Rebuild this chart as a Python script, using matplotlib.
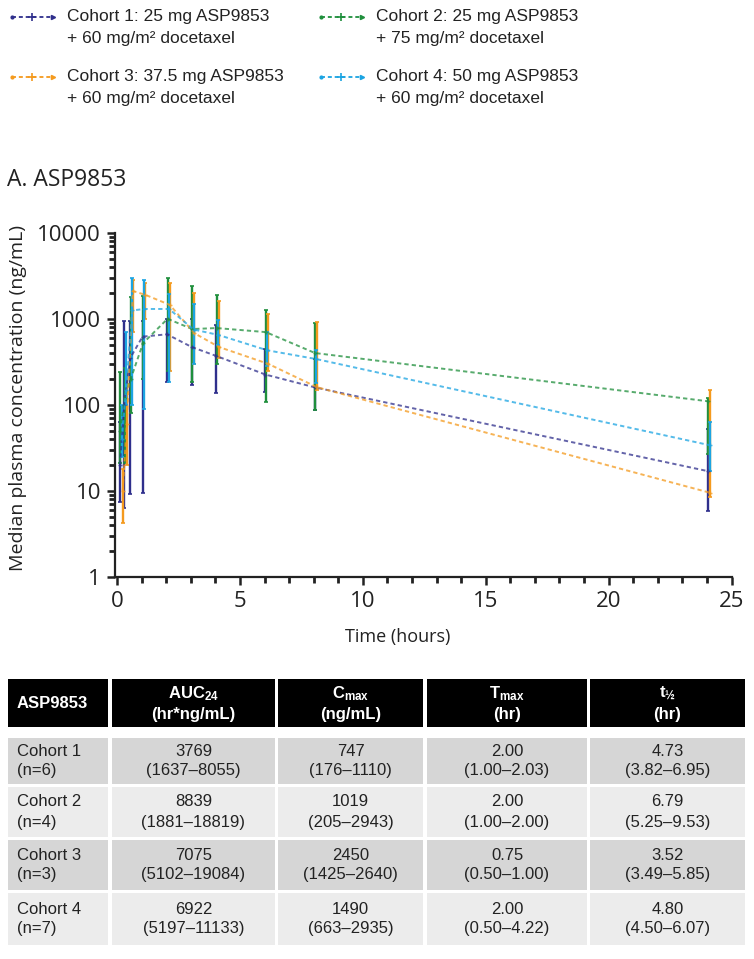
import matplotlib
matplotlib.use("Agg")
import matplotlib.pyplot as plt
from matplotlib.patches import Rectangle
from matplotlib.ticker import FixedLocator, NullFormatter, LogLocator

# ---- data ----
times = [0.083, 0.25, 0.5, 1, 2, 3, 4, 6, 8, 24]

c1_med = [20, 100, 350, 620, 660, 470, 370, 225, 160, 17]
c1_lo = [7.5, 6.3, 9.2, 9.5, 185, 170, 138, 140, 87, 5.8]
c1_hi = [63, 950, 950, 950, 1000, 1000, 850, 450, 345, 53]

c2_med = [50, 120, 200, 520, 1000, 760, 780, 700, 400, 110]
c2_lo = [21, 21, 80, 200, 250, 185, 300, 108, 87, 27]
c2_hi = [240, 270, 1800, 1850, 3000, 2400, 1900, 1250, 900, 120]

c3_med = [10, 60, 2100, 1900, 1450, 680, 470, 300, 160, 9.5]
c3_lo = [4.2, 20, 700, 1000, 250, 300, 350, 245, 150, 8.5]
c3_hi = [18, 250, 2800, 2600, 2600, 2000, 1600, 1150, 920, 148]

c4_med = [40, 150, 1250, 1300, 1300, 750, 650, 430, 340, 34]
c4_lo = [25, 100, 100, 90, 185, 300, 495, 280, 180, 17]
c4_hi = [100, 700, 3000, 2800, 1950, 1500, 960, 700, 430, 63]

cohort_names = ["Cohort 1: 25 mg ASP9853", "Cohort 2: 25 mg ASP9853",
                "Cohort 3: 37.5 mg ASP9853", "Cohort 4: 50 mg ASP9853"]
cohort_doc = ["+ 60 mg/m² docetaxel", "+ 75 mg/m² docetaxel",
              "+ 60 mg/m² docetaxel", "+ 60 mg/m² docetaxel"]

tab_header = ["ASP9853", r"$\mathregular{AUC_{24}}$", r"$\mathregular{C_{max}}$",
              r"$\mathregular{T_{max}}$", r"$\mathregular{t_{½}}$"]
tab_units = ["", "(hr*ng/mL)", "(ng/mL)", "(hr)", "(hr)"]
tab_rows = ["Cohort 1", "Cohort 2", "Cohort 3", "Cohort 4"]
tab_n = ["(n=6)", "(n=4)", "(n=3)", "(n=7)"]
auc_med = ["3769", "8839", "7075", "6922"]
auc_rng = ["(1637–8055)", "(1881–18819)", "(5102–19084)", "(5197–11133)"]
cmax_med = ["747", "1019", "2450", "1490"]
cmax_rng = ["(176–1110)", "(205–2943)", "(1425–2640)", "(663–2935)"]
tmax_med = ["2.00", "2.00", "0.75", "2.00"]
tmax_rng = ["(1.00–2.03)", "(1.00–2.00)", "(0.50–1.00)", "(0.50–4.22)"]
thalf_med = ["4.73", "6.79", "3.52", "4.80"]
thalf_rng = ["(3.82–6.95)", "(5.25–9.53)", "(3.49–5.85)", "(4.50–6.07)"]

# ---- style ----
colors = ["#2f2f8c", "#1f8f3c", "#f49a1e", "#1ba4e2"]
dodge = [0.03, 0.05, 0.14, 0.11]
narrow = ["Liberation Sans Narrow", "Liberation Sans", "DejaVu Sans"]
sans = ["Liberation Sans", "DejaVu Sans"]
myriad = ["Open Sans", "DejaVu Sans"]

W, H = 754, 959
fig = plt.figure(figsize=(W / 100, H / 100), dpi=100)

# overlay in pixel coords for legend + table
ov = fig.add_axes([0, 0, 1, 1])
ov.set_xlim(0, W)
ov.set_ylim(H, 0)
ov.axis("off")

# legend
leg_pos = [(12, 17), (321, 17), (12, 77), (321, 77)]
for i, (lx, ly) in enumerate(leg_pos):
    c = colors[i]
    ov.plot([lx, lx + 41], [ly, ly], color=c, ls=(0, (2.2, 1.6)), lw=1.3)
    ov.plot([lx], [ly], marker="o", ms=2, color=c)
    ov.plot([lx + 20], [ly], marker="+", ms=6, mew=1.2, color=c)
    ov.plot([lx + 41], [ly], marker=">", ms=3, color=c)
    ov.text(lx + 55, ly, cohort_names[i], fontsize=12.5, family=sans,
            va="center", ha="left", color="#222222")
    ov.text(lx + 55, ly + 22, cohort_doc[i], fontsize=12.5, family=sans,
            va="center", ha="left", color="#222222")

ov.text(7, 180, "A. ASP9853", fontsize=16.5, family=myriad, va="center",
        ha="left", color="#222222")

# table
col_x = [(8, 108), (112, 275), (278, 423), (427, 587), (590, 745)]
hdr_y = (679, 727)
row_y = [(738, 784), (787, 837), (840, 890), (893, 945)]
row_fc = ["#d6d6d6", "#ececec", "#d6d6d6", "#ececec"]

for j, (x0, x1) in enumerate(col_x):
    ov.add_patch(Rectangle((x0, hdr_y[0]), x1 - x0, hdr_y[1] - hdr_y[0],
                           facecolor="black", edgecolor="none"))
    yc = (hdr_y[0] + hdr_y[1]) / 2
    if j == 0:
        ov.text(x0 + 9, yc, tab_header[j], color="white", fontsize=12,
                weight="bold", family=narrow, va="center", ha="left")
    else:
        xc = (x0 + x1) / 2
        ov.text(xc, yc - 9, tab_header[j], color="white", fontsize=12,
                weight="bold", family=narrow, va="center", ha="center")
        ov.text(xc, yc + 11, tab_units[j], color="white", fontsize=12,
                weight="bold", family=narrow, va="center", ha="center")

cols = [(tab_rows, tab_n), (auc_med, auc_rng), (cmax_med, cmax_rng),
        (tmax_med, tmax_rng), (thalf_med, thalf_rng)]
for i, (y0, y1) in enumerate(row_y):
    yc = (y0 + y1) / 2
    for j, (x0, x1) in enumerate(col_x):
        ov.add_patch(Rectangle((x0, y0), x1 - x0, y1 - y0,
                               facecolor=row_fc[i], edgecolor="none"))
        top, bot = cols[j][0][i], cols[j][1][i]
        if j == 0:
            ov.text(x0 + 9, yc - 10, top, fontsize=12, family=narrow,
                    va="center", ha="left", color="#222222")
            ov.text(x0 + 9, yc + 10, bot, fontsize=12, family=narrow,
                    va="center", ha="left", color="#222222")
        else:
            xc = (x0 + x1) / 2
            ov.text(xc, yc - 10, top, fontsize=12, family=narrow,
                    va="center", ha="center", color="#222222")
            ov.text(xc, yc + 10, bot, fontsize=12, family=narrow,
                    va="center", ha="center", color="#222222")

# ---- PK plot ----
ax = fig.add_axes([115 / W, 1 - 577 / H, (731.5 - 115) / W, (577 - 232.7) / H])
ax.patch.set_alpha(0)

series = [(c1_med, c1_lo, c1_hi), (c2_med, c2_lo, c2_hi),
          (c3_med, c3_lo, c3_hi), (c4_med, c4_lo, c4_hi)]
for k, (med, lo, hi) in enumerate(series):
    xs = [t + dodge[k] for t in times]
    yerr = [[m - l for m, l in zip(med, lo)], [h - m for h, m in zip(hi, med)]]
    ax.errorbar(xs, med, yerr=yerr, fmt="none", ecolor=colors[k],
                elinewidth=1.7, capsize=1.5, capthick=1.2, zorder=3)
    ax.plot(xs, med, color=colors[k], ls=(0, (2.2, 1.6)), lw=1.4,
            alpha=0.75, marker="+", ms=3, zorder=4)

ax.set_yscale("log")
ax.set_ylim(1, 10000)
ax.set_xlim(-0.09, 25)
ax.set_yticks([1, 10, 100, 1000, 10000])
ax.set_yticklabels(["1", "10", "100", "1000", "10000"])
ax.yaxis.set_minor_locator(LogLocator(base=10, subs=range(2, 10)))
ax.yaxis.set_minor_formatter(NullFormatter())
ax.set_xticks([0, 5, 10, 15, 20, 25])
ax.xaxis.set_minor_locator(FixedLocator(range(0, 26)))

for s in ["top", "right"]:
    ax.spines[s].set_visible(False)
for s in ["left", "bottom"]:
    ax.spines[s].set_linewidth(1.6)
    ax.spines[s].set_color("#222222")

ax.tick_params(which="major", direction="out", length=6, width=1.8,
               labelsize=16, colors="#222222", pad=4)
ax.tick_params(which="minor", direction="out", length=4, width=2,
               colors="#222222")
for lab in ax.get_xticklabels() + ax.get_yticklabels():
    lab.set_family(myriad)

fig.text(18 / W, 1 - 398 / H, "Median plasma concentration (ng/mL)",
         rotation=90, fontsize=14, family=myriad, ha="center", va="center",
         color="#222222")
fig.text(398 / W, 1 - 637 / H, "Time (hours)", fontsize=13, family=myriad,
         ha="center", va="center", color="#222222")

fig.savefig("out.png", dpi=100)
